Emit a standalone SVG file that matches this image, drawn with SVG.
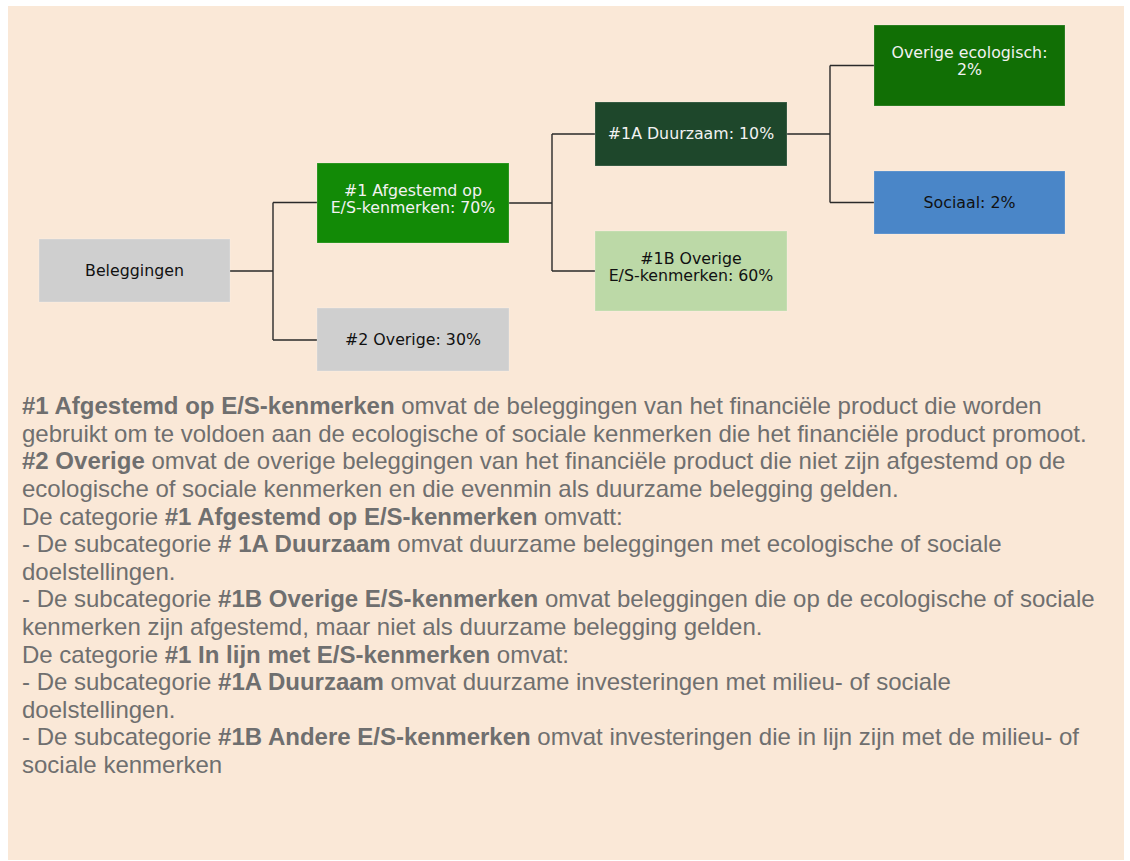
<svg xmlns="http://www.w3.org/2000/svg" width="1130" height="861" viewBox="0 0 1130 861">
<style>
.nt{font-family:"DejaVu Sans",Verdana,sans-serif;font-size:15.8px;text-anchor:middle}
.w{fill:#F2F2F2}
.k{fill:#111111}
.box{stroke:#ffffff;stroke-opacity:0.22;stroke-width:1}
.con{fill:none;stroke:#2a2a2a;stroke-width:1.4}
.para{font-family:"Liberation Sans",Arial,sans-serif;font-size:24px;fill:#6f6f6f}
.b{font-weight:bold}
</style>
<rect x="0" y="0" width="1130" height="861" fill="#ffffff"/>
<rect x="8" y="6" width="1116" height="854" fill="#FAE8D7"/>
<g id="connectors">
<path class="con" d="M230 271 H273 M273 202.5 V340 M273 202.5 H317 M273 340 H317"/>
<path class="con" d="M509 203 H552 M552 134 V271 M552 134 H595 M552 271 H595"/>
<path class="con" d="M787 134 H830 M830 65.5 V202.5 M830 65.5 H874 M830 202.5 H874"/>
</g>
<g id="node-beleggingen">
<rect class="box" x="39" y="239" width="191" height="63" fill="#CFCFCF"/>
<text class="nt k" x="134.5" y="276">Beleggingen</text>
</g>
<g id="node-1">
<rect class="box" x="317" y="163" width="192" height="80" fill="#128A06"/>
<text class="nt w" x="413" y="195.5"><tspan x="413">#1 Afgestemd op</tspan><tspan x="413" dy="17">E/S-kenmerken: 70%</tspan></text>
</g>
<g id="node-2">
<rect class="box" x="317" y="308" width="192" height="63" fill="#CFCFCF"/>
<text class="nt k" x="413" y="344.5">#2 Overige: 30%</text>
</g>
<g id="node-1a">
<rect class="box" x="595" y="102" width="192" height="64" fill="#1E472B"/>
<text class="nt w" x="691" y="139">#1A Duurzaam: 10%</text>
</g>
<g id="node-1b">
<rect class="box" x="595" y="231" width="192" height="80" fill="#BCD9A7"/>
<text class="nt k" x="691" y="264"><tspan x="691">#1B Overige</tspan><tspan x="691" dy="17">E/S-kenmerken: 60%</tspan></text>
</g>
<g id="node-eco">
<rect class="box" x="874" y="25" width="191" height="81" fill="#116F05"/>
<text class="nt w" x="969.5" y="58"><tspan x="969.5">Overige ecologisch:</tspan><tspan x="969.5" dy="17">2%</tspan></text>
</g>
<g id="node-sociaal">
<rect class="box" x="874" y="171" width="191" height="63" fill="#4A86C8"/>
<text class="nt k" x="969.5" y="207.5">Sociaal: 2%</text>
</g>
<g id="explanation" class="para">
<text x="22" y="414.2"><tspan class="b">#1 Afgestemd op E/S-kenmerken</tspan> omvat de beleggingen van het financiële product die worden</text>
<text x="22" y="441.8">gebruikt om te voldoen aan de ecologische of sociale kenmerken die het financiële product promoot.</text>
<text x="22" y="469.4"><tspan class="b">#2 Overige</tspan> omvat de overige beleggingen van het financiële product die niet zijn afgestemd op de</text>
<text x="22" y="497">ecologische of sociale kenmerken en die evenmin als duurzame belegging gelden.</text>
<text x="22" y="524.6">De categorie <tspan class="b">#1 Afgestemd op E/S-kenmerken</tspan> omvatt:</text>
<text x="22" y="552.2">- De subcategorie <tspan class="b"># 1A Duurzaam</tspan> omvat duurzame beleggingen met ecologische of sociale</text>
<text x="22" y="579.8">doelstellingen.</text>
<text x="22" y="607.4">- De subcategorie <tspan class="b">#1B Overige E/S-kenmerken</tspan> omvat beleggingen die op de ecologische of sociale</text>
<text x="22" y="635">kenmerken zijn afgestemd, maar niet als duurzame belegging gelden.</text>
<text x="22" y="662.6">De categorie <tspan class="b">#1 In lijn met E/S-kenmerken</tspan> omvat:</text>
<text x="22" y="690.2">- De subcategorie <tspan class="b">#1A Duurzaam</tspan> omvat duurzame investeringen met milieu- of sociale</text>
<text x="22" y="717.8">doelstellingen.</text>
<text x="22" y="745.4">- De subcategorie <tspan class="b">#1B Andere E/S-kenmerken</tspan> omvat investeringen die in lijn zijn met de milieu- of</text>
<text x="22" y="773">sociale kenmerken</text>
</g>
</svg>
